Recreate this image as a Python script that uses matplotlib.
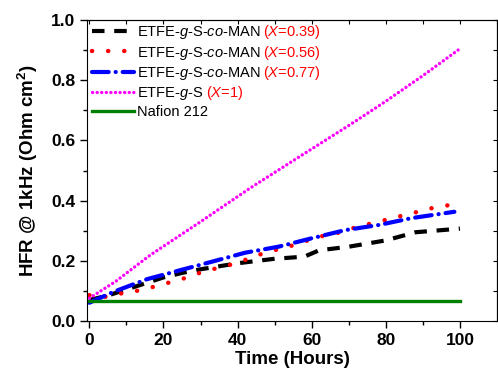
import numpy as np
import matplotlib
matplotlib.use("Agg")
import matplotlib.pyplot as plt

plt.rcParams['font.family'] = 'Liberation Sans'
plt.rcParams['mathtext.fontset'] = 'custom'
plt.rcParams['mathtext.rm'] = 'Liberation Sans'
plt.rcParams['mathtext.it'] = 'Liberation Sans:italic'
plt.rcParams['mathtext.bf'] = 'Liberation Sans:bold'
plt.rcParams['lines.scale_dashes'] = False

# data
t_039 = [0, 5, 10, 15, 20, 25, 30, 40, 50, 58, 62, 70, 80, 88, 100]
hfr_039 = [0.07, 0.085, 0.105, 0.125, 0.145, 0.16, 0.172, 0.192, 0.207, 0.214,
           0.235, 0.247, 0.268, 0.295, 0.307]

t_056 = [0, 4, 9, 14, 18, 23, 27, 31, 36, 40, 44, 48, 53, 62, 67, 71, 75, 79,
         84, 88, 92, 97]
hfr_056 = [0.086, 0.08, 0.093, 0.103, 0.116, 0.133, 0.147, 0.166, 0.18, 0.194,
           0.212, 0.23, 0.244, 0.28, 0.293, 0.308, 0.321, 0.333, 0.349, 0.361,
           0.374, 0.385]

t_077 = [0, 6.5, 15.5, 24.5, 33, 42, 51, 60, 69, 78, 87, 98.5]
hfr_077 = [0.061, 0.097, 0.139, 0.169, 0.197, 0.227, 0.247, 0.275, 0.302,
           0.319, 0.342, 0.363]

t_1 = [0, 7, 16.4, 30, 43.3, 56.7, 70.2, 80, 90, 99.5]
hfr_1 = [0.076, 0.131, 0.219, 0.33, 0.441, 0.546, 0.651, 0.73, 0.815, 0.90]

t_naf = [0, 100]
hfr_naf = [0.066, 0.066]

names = ['ETFE-$\\mathit{g}$-S-$\\mathit{co}$-MAN',
         'ETFE-$\\mathit{g}$-S-$\\mathit{co}$-MAN',
         'ETFE-$\\mathit{g}$-S-$\\mathit{co}$-MAN',
         'ETFE-$\\mathit{g}$-S',
         'Nafion 212']
x_tags = ['($\\mathit{X}$=0.39)', '($\\mathit{X}$=0.56)', '($\\mathit{X}$=0.77)',
          '($\\mathit{X}$=1)', None]

fig = plt.figure(figsize=(4.98, 3.76), dpi=100)
ax = fig.add_axes([0.175, 0.146, 0.823, 0.801])

ax.plot(t_039, hfr_039, color='black', lw=3, dashes=(9, 7), label=names[0])
ax.plot(t_056, hfr_056, color='red', lw=3.2, dashes=(0.1, 11.5),
        dash_capstyle='round', label=names[1])
ax.plot(t_077, hfr_077, color='blue', lw=3, dashes=(12, 5, 0.1, 5),
        dash_capstyle='round', label=names[2])
ax.plot(t_1, hfr_1, color='magenta', lw=2.4, dashes=(0.1, 3.2),
        dash_capstyle='round', label=names[3])
ax.plot(t_naf, hfr_naf, color='green', lw=2.4, label=names[4])

ax.set_xlim(-0.6, 110)
ax.set_ylim(0, 1.0)
ax.set_xticks([0, 20, 40, 60, 80, 100])
ax.set_xticks(np.arange(10, 110, 20), minor=True)
ax.set_yticks(np.arange(0, 1.01, 0.2))
ax.set_yticks(np.arange(0.1, 1.0, 0.2), minor=True)
ax.set_yticklabels(['0.0', '0.2', '0.4', '0.6', '0.8', '1.0'])

ax.tick_params(which='both', direction='out', top=False, right=False, width=1)
ax.tick_params(which='major', length=5, labelsize=12.5)
ax.tick_params(which='minor', length=3)
for lab in ax.get_xticklabels() + ax.get_yticklabels():
    lab.set_fontweight('bold')

# inward ticks on the top and right frame
sx = ax.secondary_xaxis('top')
sx.set_xticks(np.arange(0, 111, 10))
sx.tick_params(direction='in', length=3, labeltop=False)
sy = ax.secondary_yaxis('right')
sy.set_yticks(np.arange(0, 1.01, 0.1))
sy.tick_params(direction='in', length=3, labelright=False)

ax.set_xlabel('Time (Hours)', fontsize=13.5, fontweight='bold', labelpad=2)
ax.set_ylabel('HFR @ 1kHz (Ohm cm$^\\mathbf{2}$)', fontsize=13.5,
              fontweight='bold', labelpad=8)

leg = ax.legend(loc='upper left', frameon=False, fontsize=10.5,
                handlelength=2.9, handletextpad=0.2, labelspacing=0.22,
                borderaxespad=0.2, borderpad=0.1)

# red X tags appended after the legend texts
fig.canvas.draw()
inv = fig.transFigure.inverted()
for txt, tag in zip(leg.get_texts(), x_tags):
    if tag is None:
        continue
    bb = txt.get_window_extent()
    x0, y0 = inv.transform((bb.x1 + 3, bb.y0))
    fig.text(x0, y0, tag, color='red', fontsize=10.5, va='bottom',
             transform=fig.transFigure)

fig.savefig('out.png', dpi=100)
